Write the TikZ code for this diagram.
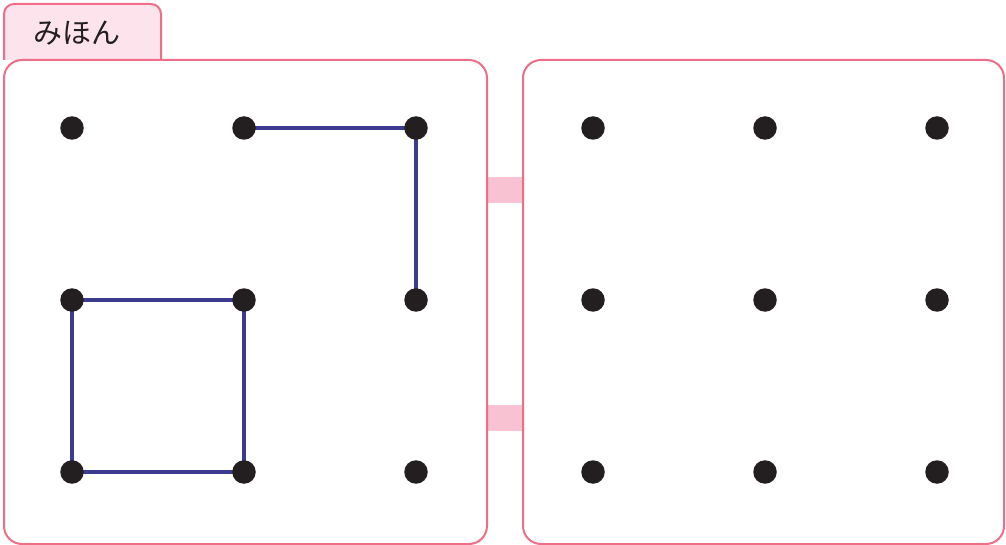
\documentclass[tikz,border=0pt]{standalone}
\usepackage{fontspec}
\usetikzlibrary{backgrounds}
\newfontfamily\cjk{Noto Sans CJK JP}
\definecolor{bord}{HTML}{EE6E87}
\definecolor{tabfill}{HTML}{FCE3EC}
\definecolor{conn}{HTML}{F8C2D3}
\definecolor{seg}{HTML}{3C3C8E}
\definecolor{dotc}{HTML}{231F20}
\begin{document}
\begin{tikzpicture}[x=1pt,y=-1pt,
  panel/.style={draw=bord,line width=2pt,rounded corners=18pt},
  dotn/.style={circle,fill=dotc,inner sep=0pt,minimum size=23.5pt},
  segl/.style={draw=seg,line width=4pt},
  connbox/.style={fill=conn,draw=none}]
\useasboundingbox (0,0) rectangle (1006,545);
% connectors
\fill[connbox] (486,177) rectangle (523,203);
\fill[connbox] (486,405) rectangle (523,431);
% tab
\draw[draw=bord,line width=2pt,fill=tabfill,rounded corners=10pt] (4,60) -- (4,4) -- (161,4) [sharp corners] -- (161,60);
\node[font=\cjk\fontsize{29}{34}\selectfont,text=dotc,inner sep=0pt] (tab) at (77,33) {みほん};
% panels
\draw[panel] (4,60) rectangle (487,544);
\draw[panel] (523,60) rectangle (1004,544);
% dots
\foreach \i/\x in {1/72,2/244,3/416}{
  \foreach \j/\y in {1/128,2/300,3/472}{
    \node[dotn] (L\i\j) at (\x,\y) {};
  }
}
\foreach \i/\x in {1/593,2/765,3/937}{
  \foreach \j/\y in {1/128,2/300,3/472}{
    \node[dotn] (R\i\j) at (\x,\y) {};
  }
}
% segments
\begin{pgfonlayer}{background}
\draw[segl] (L21.center) -- (L31.center) -- (L32.center);
\draw[segl] (L12.center) -- (L22.center) -- (L23.center) -- (L13.center) -- cycle;
\end{pgfonlayer}
\end{tikzpicture}
\end{document}
